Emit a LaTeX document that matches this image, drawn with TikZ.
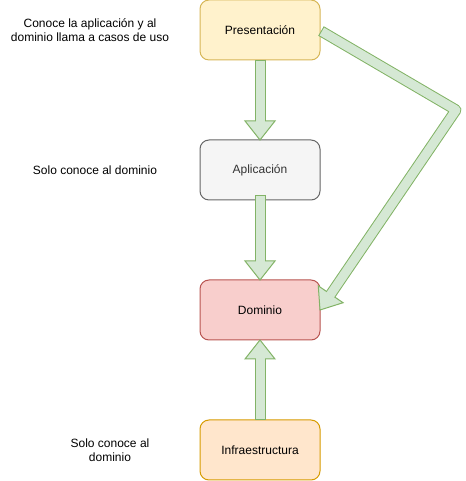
\documentclass[tikz,border=0pt]{standalone}
\usepackage{fontspec}
\setmainfont{Liberation Sans}
\usepackage{tikz}
\usetikzlibrary{calc}
\usetikzlibrary{positioning}

\definecolor{presfill}{HTML}{FFF2CC}
\definecolor{presline}{HTML}{D6B656}
\definecolor{aplfill}{HTML}{F5F5F5}
\definecolor{aplline}{HTML}{666666}
\definecolor{apltext}{HTML}{333333}
\definecolor{domfill}{HTML}{F8CECC}
\definecolor{domline}{HTML}{B85450}
\definecolor{infrafill}{HTML}{FFE6CC}
\definecolor{infraline}{HTML}{D79B00}
\definecolor{arrowfill}{HTML}{D5E8D4}
\definecolor{arrowline}{HTML}{82B366}

\tikzset{
  layer/.style={rectangle, rounded corners=9pt, minimum width=120pt, minimum height=60pt, line width=1pt, inner sep=0pt, outer sep=0pt},
  note/.style={align=center, inner sep=0pt},
  arrowrim/.style={draw=arrowline, line width=11pt},
  arrowbody/.style={draw=arrowfill, line width=9pt},
  arrowhead/.style={fill=arrowfill, draw=arrowline, line width=1pt},
}

% wide arrow, straight
\newcommand{\flexarrow}[2]{%
  \coordinate (hb) at ($(#2)!19pt!(#1)$);
  \draw[arrowhead] ($(hb)!15pt!90:(#2)$) -- (#2) -- ($(hb)!15pt!-90:(#2)$) -- cycle;
  \draw[arrowrim] (#1) -- (hb);
  \draw[arrowbody, shorten <=1pt] (#1) -- ($(hb)!-1pt!(#1)$);
}
% wide arrow, with one bend
\newcommand{\flexarrowbend}[3]{%
  \coordinate (hb) at ($(#3)!19pt!(#2)$);
  \draw[arrowhead] ($(hb)!15pt!90:(#3)$) -- (#3) -- ($(hb)!15pt!-90:(#3)$) -- cycle;
  \draw[arrowrim, line join=round] (#1) -- (#2) -- (hb);
  \draw[arrowbody, line join=round, shorten <=1pt] (#1) -- (#2) -- ($(hb)!-1pt!(#2)$);
}

\begin{document}
\begin{tikzpicture}[x=1pt, y=1pt, font=\fontsize{12}{14}\selectfont]
\useasboundingbox (0,0) rectangle (465,481);

\node[layer, fill=presfill, draw=presline] (pres) at (260,451) {Presentación};
\node[layer, fill=aplfill, draw=aplline, text=apltext, below=80pt of pres] (apl) {Aplicación};
\node[layer, fill=domfill, draw=domline, below=80pt of apl] (dom) {Dominio};
\node[layer, fill=infrafill, draw=infraline, below=80pt of dom] (infra) {Infraestructura};

\node[note] (notepres) at (90,451) {Conoce la aplicación y al\\dominio llama a casos de uso};
\node[note] (noteapl) at (95,311) {Solo conoce al dominio};
\node[note] (noteinfra) at (110,31) {Solo conoce al\\dominio};

\coordinate (presout) at ($(pres.east)+(1,-1)$);
\coordinate (bend) at (456,371);
\coordinate (aplout) at ($(apl.south)+(0,5)$);

\flexarrow{pres.south}{apl.north}
\flexarrow{aplout}{dom.north}
\flexarrow{infra.north}{dom.south}
\flexarrowbend{presout}{bend}{dom.east}

\end{tikzpicture}
\end{document}
